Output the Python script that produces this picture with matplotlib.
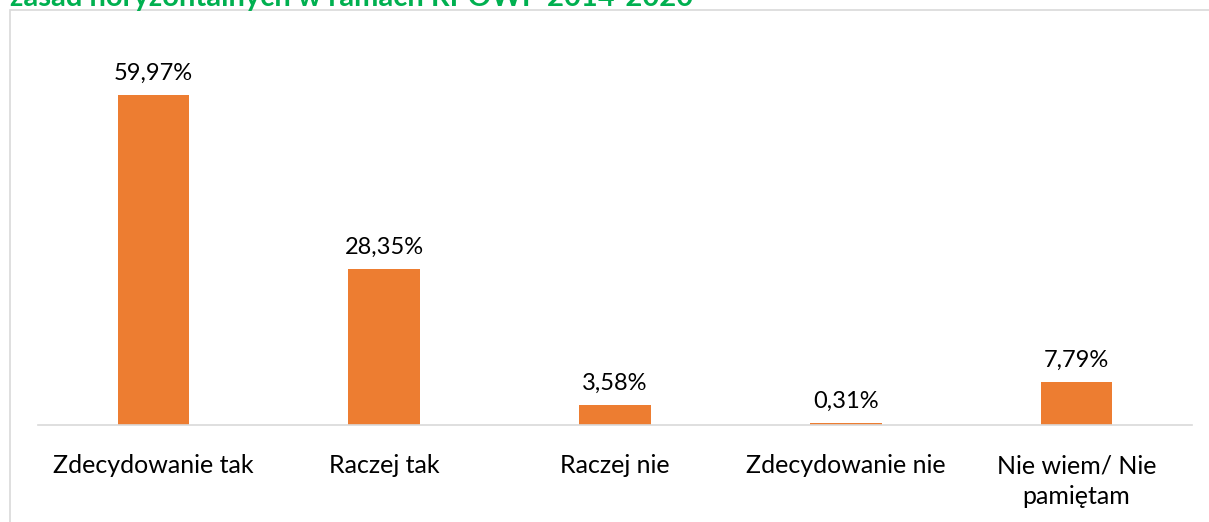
import matplotlib.pyplot as plt
from matplotlib.patches import Rectangle

categories = ["Zdecydowanie tak", "Raczej tak", "Raczej nie",
              "Zdecydowanie nie", "Nie wiem/ Nie\npamiętam"]
values = [59.97, 28.35, 3.58, 0.31, 7.79]
labels = ["59,97%", "28,35%", "3,58%", "0,31%", "7,79%"]

W, H = 1209, 522
fig = plt.figure(figsize=(W / 100, H / 100), dpi=100)
plt.rcParams['font.family'] = ['Lato', 'DejaVu Sans']

# outer chart frame
fig.patches.append(Rectangle((10 / W, -0.1), 1.1, (H - 10) / H + 0.1,
                             transform=fig.transFigure, fill=False,
                             edgecolor='#d9d9d9', linewidth=1.2))

# title cut off at top
fig.text(10 / W, 1 - 6 / H, "zasad horyzontalnych w ramach RPOWP 2014-2020",
         color='#00b050', fontsize=21, fontweight='bold', va='baseline')

ax = fig.add_axes([38 / W, (H - 425) / H, (1192 - 38) / W, 385 / H])
x = range(len(values))
ax.bar(x, values, width=0.31, color='#ed7d31')
for i, v in enumerate(values):
    ax.text(i, v + 2.0, labels[i], ha='center', va='bottom',
            fontsize=17, color='#000000')

ax.set_xlim(-0.5, 4.5)
ax.set_ylim(0, 70)
ax.set_xticks(list(x))
ax.set_xticklabels(categories, fontsize=18, linespacing=1.4)
ax.tick_params(axis='x', length=0, pad=21)
ax.set_yticks([])
for s in ['top', 'right', 'left']:
    ax.spines[s].set_visible(False)
ax.spines['bottom'].set_color('#d9d9d9')
ax.spines['bottom'].set_linewidth(1.2)

fig.savefig("out.png", dpi=100)
